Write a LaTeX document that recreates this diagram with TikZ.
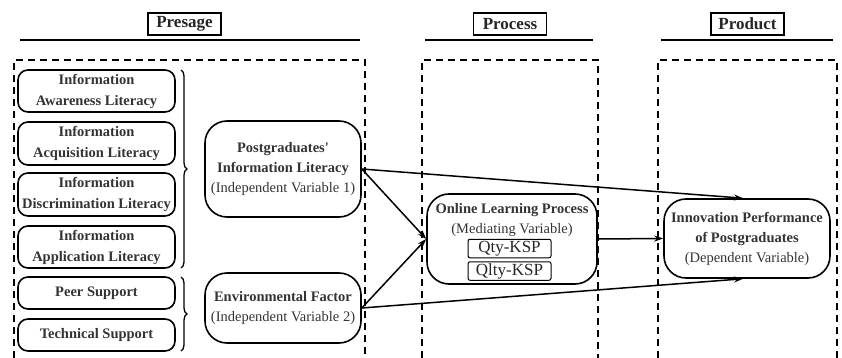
\documentclass[tikz,border=0pt]{standalone}
\usepackage{fontspec}
\setmainfont{Liberation Serif}
\usetikzlibrary{arrows.meta,%
	decorations.pathreplacing}

\begin{document}
\begin{tikzpicture}[x=1pt,y=-1pt,
	lit_node/.style={draw,rounded corners=10pt,line width=1.6pt,minimum width=157pt,align=center,inner sep=0pt,text=black!80,font=\bfseries\fontsize{14.5}{21}\selectfont},
	var_node/.style={draw,rounded corners=22pt,line width=1.6pt,minimum width=156pt,align=center,inner sep=0pt,text=black!80,font=\fontsize{14.5}{20}\selectfont},
	head_node/.style={draw,line width=1.9pt,minimum width=73pt,minimum height=22pt,inner sep=0pt,text=black!85,font=\bfseries\fontsize{17}{18}\selectfont},
	ksp_node/.style={draw,rounded corners=2pt,line width=1pt,minimum width=83pt,minimum height=18.5pt,inner sep=0pt,text=black!85,font=\fontsize{17}{18}\selectfont},
	frame_line/.style={line width=1.5pt,dash pattern=on 7pt off 5pt},
	brace_line/.style={line width=1.3pt,decorate,decoration={brace,amplitude=6pt}},
	link/.style={line width=1.5pt,-{Stealth[length=9pt,width=6pt]}}]
		
		\useasboundingbox (0,0) rectangle (842,358);
		
		% stage headings
		\node[head_node] (presage) at (184.5,24) {Presage};
		\node[head_node] (process) at (510,24) {Process};
		\node[head_node] (product) at (747.5,24) {Product};
		\draw[line width=1.6pt] (20,40) -- (360,40);
		\draw[line width=1.6pt] (425,40) -- (593,40);
		\draw[line width=1.6pt] (661,40) -- (833,40);
		
		% dashed frames
		\draw[frame_line] (14,358) -- (14,60) -- (365,60) -- (365,358);
		\draw[frame_line] (422,358) -- (422,60) -- (598,60) -- (598,358);
		\draw[frame_line] (658,358) -- (658,60) -- (837,60) -- (837,358);
		
		% presage items
		\node[lit_node,minimum height=42pt] (aware) at (96.5,91) {Information\\Awareness Literacy};
		\node[lit_node,minimum height=43pt] (acquis) at (96.5,143.5) {Information\\Acquisition Literacy};
		\node[lit_node,minimum height=43pt] (discrim) at (96.5,194.5) {Information\\Discrimination Literacy};
		\node[lit_node,minimum height=42pt] (applic) at (96.5,247) {Information\\Application Literacy};
		\node[lit_node,minimum height=32pt] (peer) at (96.5,293) {Peer Support};
		\node[lit_node,minimum height=32pt] (tech) at (96.5,335) {Technical Support};
		
		\draw[brace_line] (181,70) -- (181,268);
		\draw[brace_line] (181,277) -- (181,351);
		
		% variables
		\node[var_node,minimum height=96pt] (pil) at (283,169) {\textbf{Postgraduates\textquotesingle}\\\textbf{Information Literacy}\\(Independent Variable 1)};
		\node[var_node,minimum height=70pt] (env) at (283,308) {\textbf{Environmental Factor}\\(Independent Variable 2)};
		\node[var_node,minimum width=170pt,minimum height=90pt] (olp) at (512,239) {};
		\node[align=center,inner sep=0pt,text=black!80,font=\fontsize{14.5}{20}\selectfont] (olp_txt) at (512,220) {\textbf{Online Learning Process}\\(Mediating Variable)};
		\node[ksp_node] (qty) at (509.5,248.5) {Qty-KSP};
		\node[ksp_node] (qlty) at (509.5,271) {Qlty-KSP};
		\node[var_node,minimum width=166pt,minimum height=79pt] (innov) at (747,238.5) {\textbf{Innovation Performance}\\\textbf{of Postgraduates}\\(Dependent Variable)};
		
		\draw[link] (pil.east) -- ([xshift=-4pt]innov.north);
		\draw[link] (pil.east) -- (olp.west);
		\draw[link] (env.east) -- (olp.west);
		\draw[link] (env.east) -- ([xshift=-4pt]innov.south);
		\draw[link] (olp.east) -- (innov.west);
		\end{tikzpicture}
\end{document}
